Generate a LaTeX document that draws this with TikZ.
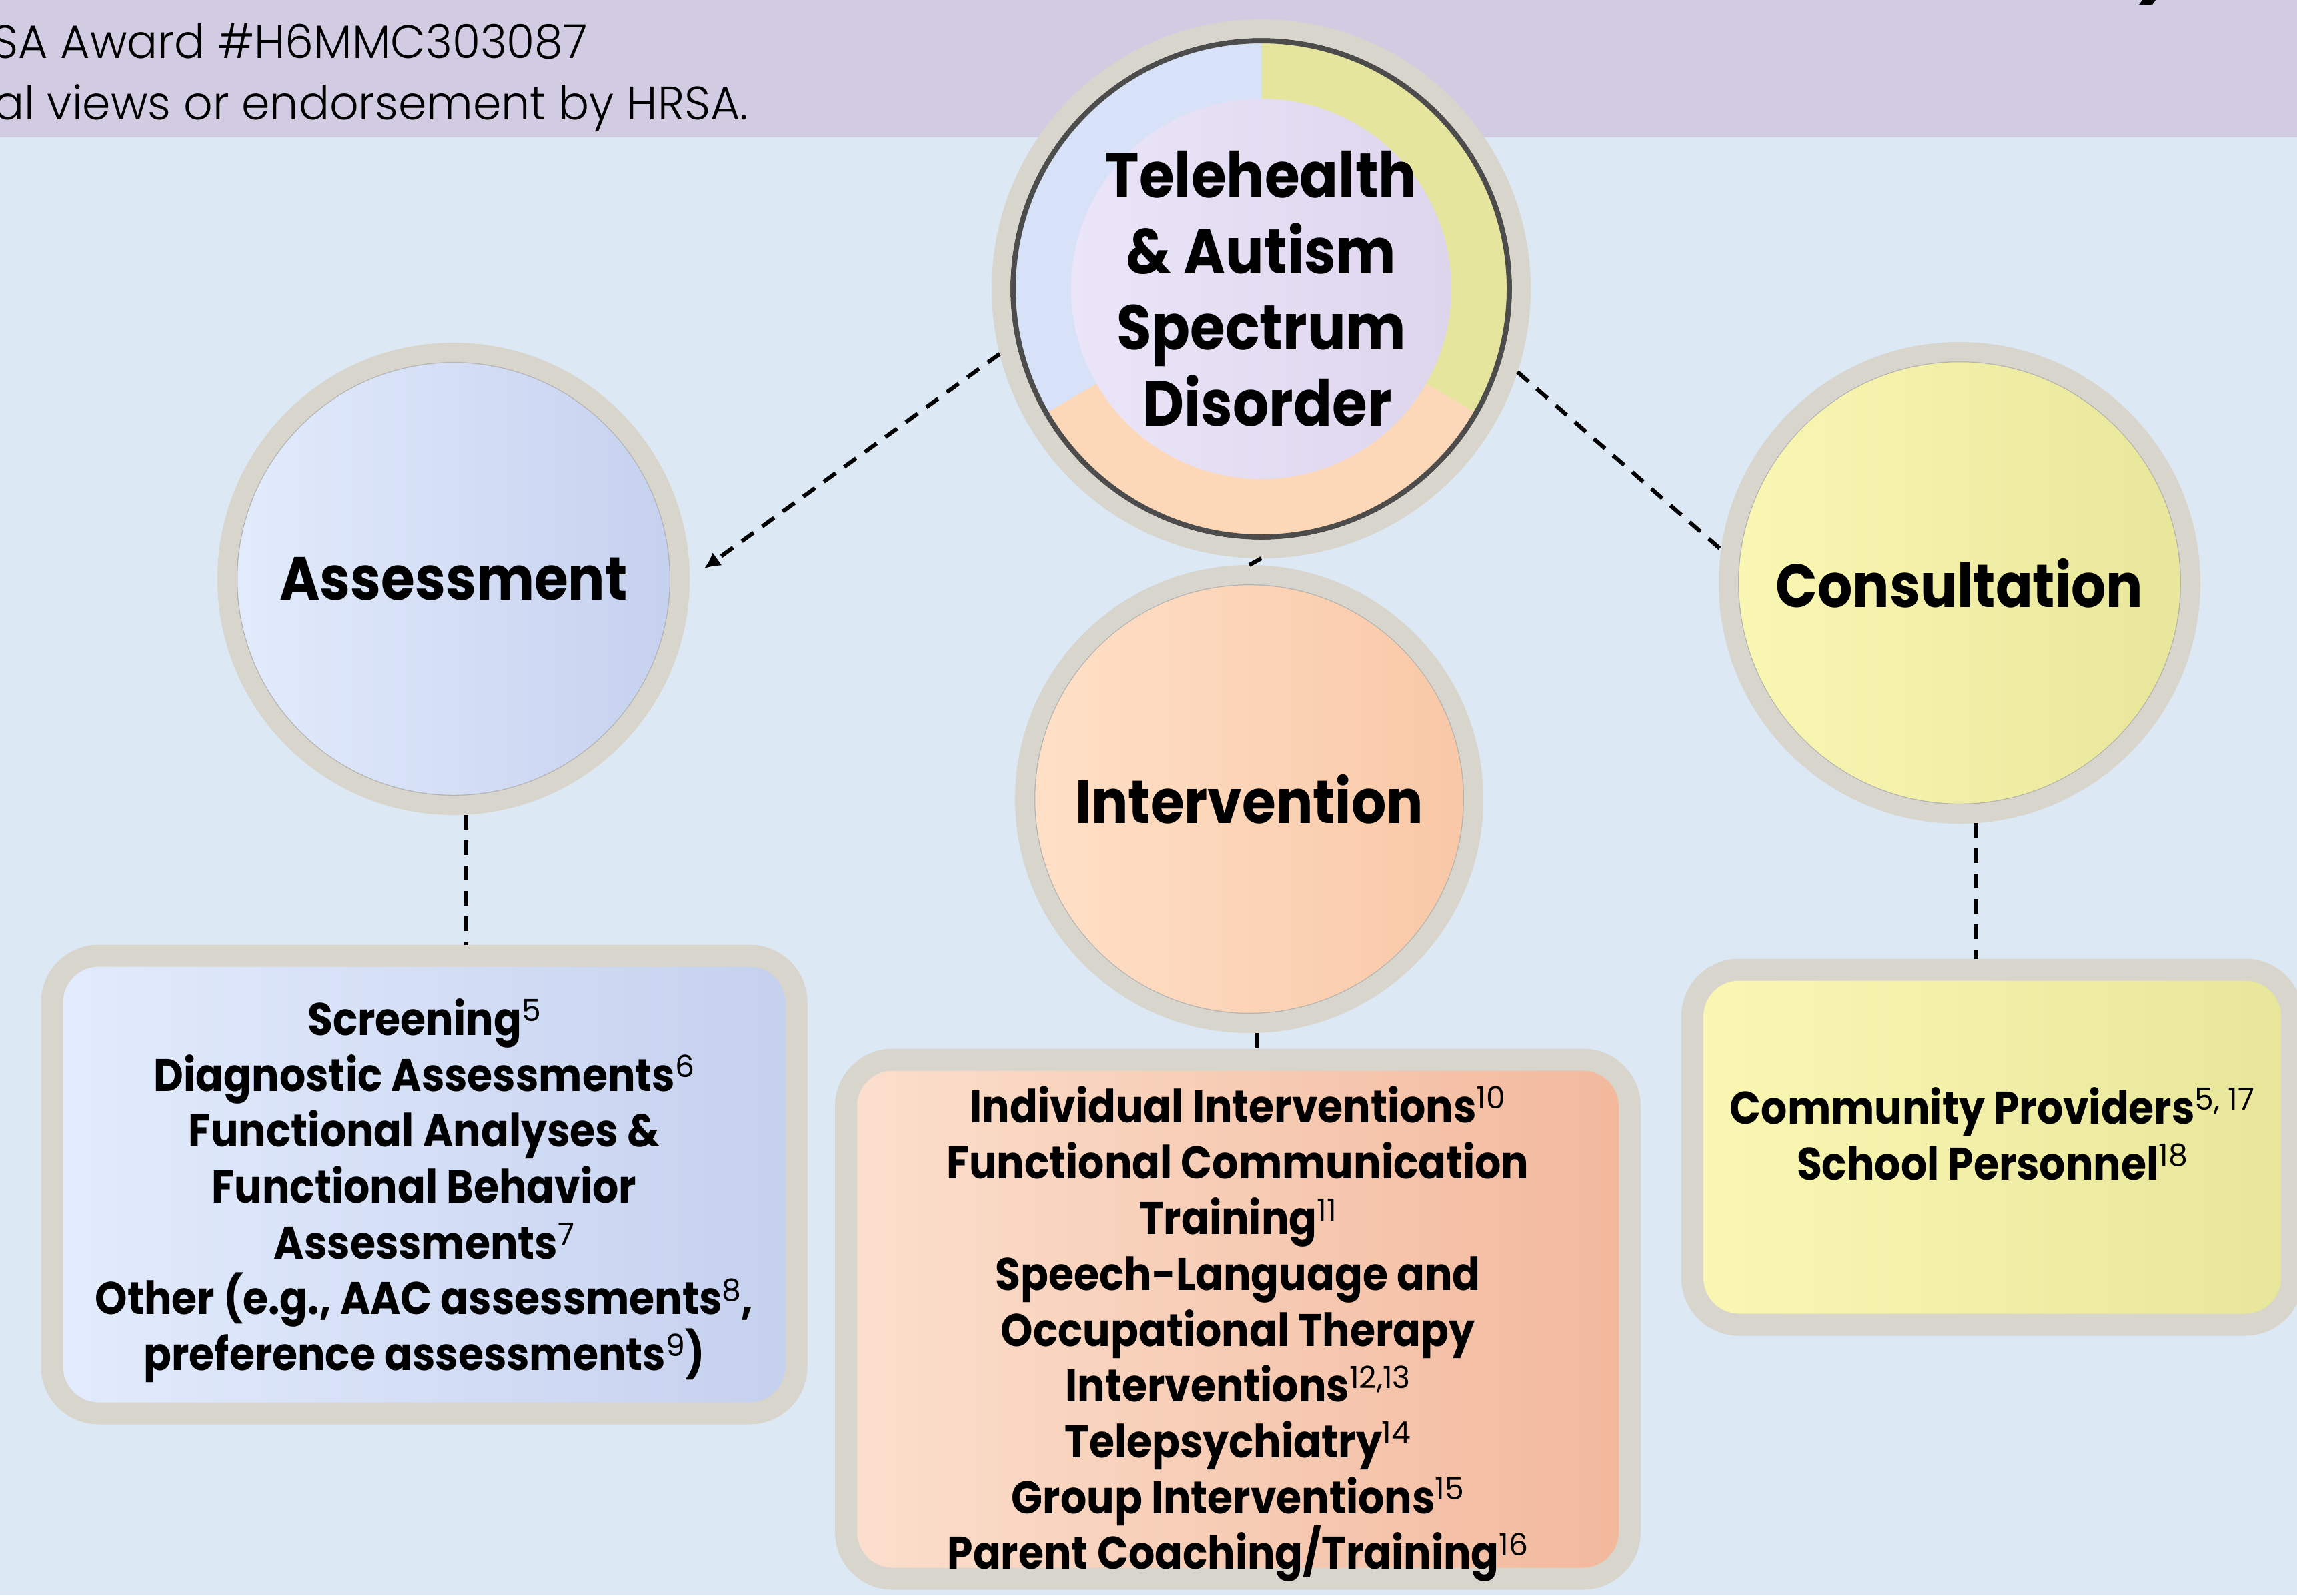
\documentclass[tikz,border=0pt]{standalone}
\usepackage{fontspec}
\setmainfont{Poppins}[BoldFeatures={FakeStretch=0.9}]
\newfontfamily\legerfont{Poppins Light}[FakeStretch=0.97]
\usepackage{xcolor}
\usetikzlibrary{arrows.meta, positioning, calc}

% Couleurs
\definecolor{bandeau}{HTML}{D2CCE3}
\definecolor{fond}{HTML}{DDE8F5}
\definecolor{cadre}{HTML}{D8D5CC}
\definecolor{secbleu}{HTML}{D7E2F8}
\definecolor{secjaune}{HTML}{E6E59E}
\definecolor{secorange}{HTML}{FDD8B8}
\definecolor{lavclair}{HTML}{EBE5F9}
\definecolor{lavfonce}{HTML}{DCD5EC}
\definecolor{bleuclair}{HTML}{E3ECFC}
\definecolor{bleufonce}{HTML}{C5D0EE}
\definecolor{orangeclair}{HTML}{FFE1C8}
\definecolor{orangefonce}{HTML}{F8C7A6}
\definecolor{jauneclair}{HTML}{FAF7B4}
\definecolor{jaunefonce}{HTML}{E8E69A}
\definecolor{saumonclair}{HTML}{FBDFCD}
\definecolor{saumonfonce}{HTML}{F2B89C}

% exposant des références
\newcommand{\expo}[1]{\raisebox{.3em}{\mdseries\fontsize{13}{13}\selectfont #1}}

\begin{document}
\begin{tikzpicture}[node distance=1.5cm, auto]
    % Définition des styles
    \tikzset{
        tele/.style   = {circle, draw=cadre, line width=.28cm, minimum size=7.8cm, inner sep=0, align=center,
                         font=\fontsize{27}{32.4}\selectfont\bfseries,
                         path picture={
                            \fill[secjaune] (path picture bounding box.center) -- ++(90:4) arc[start angle=90, end angle=-30, radius=4] -- cycle;
                            \fill[secbleu] (path picture bounding box.center) -- ++(90:4) arc[start angle=90, end angle=210, radius=4] -- cycle;
                            \fill[secorange] (path picture bounding box.center) -- ++(210:4) arc[start angle=210, end angle=330, radius=4] -- cycle;
                            \shade[left color=lavclair, right color=lavfonce] (path picture bounding box.center) circle[radius=2.85];
                            \draw[black!70, line width=.08cm] (path picture bounding box.center) circle[radius=3.72];
                         }},
        bouton/.style = {circle, draw=cadre, line width=.29cm, inner sep=0, font=\fontsize{26}{30}\selectfont\bfseries,
                         path picture={
                            \draw[black!30, line width=.025cm] let \p1=($(path picture bounding box.east)-(path picture bounding box.center)$)
                                in (path picture bounding box.center) circle[radius=\x1-.145cm];
                         }},
        boite/.style  = {rectangle, draw=cadre, line width=.33cm, rounded corners=.7cm, inner sep=0},
        liste/.style  = {align=center, inner sep=0, font=\fontsize{19.5}{23.8}\selectfont\bfseries},
        tiret/.style  = {draw, line width=.06cm, dash pattern=on .22cm off .16cm},
        fleche/.style = {tiret, -{Latex[length=.24cm, width=.24cm]}, shorten >=.27cm}
    }

    % Fond et bandeau du haut
    \useasboundingbox (0,0) rectangle (34.44,-23.92);
    \clip (0,0) rectangle (34.44,-23.92);
    \fill[fond] (0,0) rectangle (34.44,-23.92);
    \fill[bandeau] (0,0) rectangle (34.44,-2.06);

    \node [anchor=base west, inner sep=0, font=\legerfont\fontsize{20}{26}\selectfont] (award) at (-0.12,-0.87) {SA Award \#H6MMC303087};
    \node [anchor=base west, inner sep=0, font=\legerfont\fontsize{20}{26}\selectfont] (avis) at (-0.10,-1.79) {al views or endorsement by HRSA.};
    \fill (32.07,-0.07) -- (32.27,-0.07) -- (32.32,0) -- (32.12,0) -- cycle;

    % Cercle central et les trois volets
    \node [tele] (tele) at (18.91,-4.33) {Telehealth\\\& Autism\\Spectrum\\\ Disorder};
    \node [bouton, minimum size=6.79cm, left color=bleuclair, right color=bleufonce, left of=tele, xshift=-10.61cm, yshift=-4.35cm] (assess) {Assessment};
    \node [bouton, minimum size=6.73cm, left color=orangeclair, right color=orangefonce, below of=tele, xshift=-.18cm, yshift=-6.15cm] (interv) {Intervention};
    \node [bouton, minimum size=6.93cm, left color=jauneclair, right color=jaunefonce, right of=tele, xshift=8.97cm, yshift=-4.41cm] (consult) {Consultation};

    % Boites de détail
    \node [boite, minimum width=11.16cm, minimum height=6.86cm, left color=bleuclair, right color=bleufonce, below of=assess, xshift=-.44cm, yshift=-7.58cm] (abox) {};
    \node [boite, minimum width=11.75cm, minimum height=7.78cm, left color=saumonclair, right color=saumonfonce, below of=interv, xshift=-.17cm, yshift=-6.30cm] (ibox) {};
    \node [boite, minimum width=8.99cm, minimum height=5.32cm, left color=jauneclair, right color=jaunefonce, below of=consult, xshift=.49cm, yshift=-6.96cm] (cbox) {};

    \node [liste] (atxt) at ($(abox.center)+(0,-.09)$)
        {Screening\expo{5}\\Diagnostic Assessments\expo{6}\\Functional Analyses \&\\Functional Behavior\\Assessments\expo{7}\\Other (e.g., AAC assessments\expo{8},\\preference assessments\expo{9})};
    \node [liste] (itxt) at ($(ibox.center)+(0,-.22)$)
        {Individual Interventions\expo{10}\\Functional Communication\\Training\expo{11}\\Speech-Language and\\Occupational Therapy\\Interventions\expo{12,13}\\Telepsychiatry\expo{14}\\Group Interventions\expo{15}\\Parent Coaching/Training\expo{16}};
    \node [liste] (ctxt) at ($(cbox.center)+(0,.2)$)
        {Community Providers\expo{5, 17}\\School Personnel\expo{18}};

    % Liaisons
    \path [fleche] (tele.194) -- (assess.east);
    \path [tiret] (tele.-18) -- (consult.172);
    \path [tiret] (tele.south) -- (interv.north);
    \path [tiret] (assess.-87) -- (assess.-87 |- abox.north);
    \path [tiret] (interv.-88) -- (interv.-88 |- ibox.north);
    \path [tiret] (consult.-86.5) -- (consult.-86.5 |- cbox.north);
\end{tikzpicture}
\end{document}
